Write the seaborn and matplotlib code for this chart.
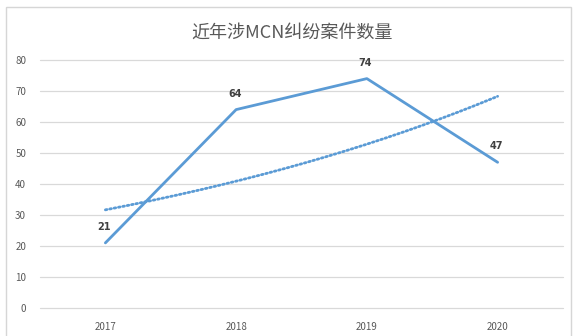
import numpy as np
import pandas as pd
import matplotlib
matplotlib.use("Agg")
import matplotlib.pyplot as plt
from matplotlib.patches import Rectangle
import seaborn as sns

# Data
years = ["2017", "2018", "2019", "2020"]
cases = [21, 64, 74, 47]
y_ticks = [0, 10, 20, 30, 40, 50, 60, 70, 80]
title = "近年涉MCN纠纷案件数量"

sns.set_theme(style="white")
plt.rcParams["font.family"] = ["Noto Sans CJK SC", "DejaVu Sans"]

W, H, DPI = 573, 336, 100
fig = plt.figure(figsize=(W / DPI, H / DPI), dpi=DPI)
fig.patch.set_facecolor("white")

# light frame around the chart area
fig.patches.append(Rectangle((6 / W, -0.05), (W - 8) / W, 1.05 - 7 / H,
                             transform=fig.transFigure, fill=False,
                             edgecolor="#d6d6d6", linewidth=1.0))

ax = fig.add_axes([40 / W, (H - 308) / H, 523 / W, 248 / H])
ax.set_facecolor("white")

df = pd.DataFrame({"idx": np.arange(len(years)), "cases": cases})
blue = "#5b9bd5"

# gridlines
for t in y_ticks:
    ax.axhline(t, color="#d9d9d9", linewidth=0.9, zorder=0, clip_on=False)

sns.lineplot(data=df, x="idx", y="cases", ax=ax, color=blue, linewidth=2.0,
             zorder=3)

# exponential trend line fitted to the yearly counts
b, ln_a = np.polyfit(df["idx"], np.log(df["cases"]), 1)
xs = np.linspace(0, len(years) - 1, 200)
ax.plot(xs, np.exp(ln_a + b * xs), color=blue, linewidth=2.0,
        linestyle=(0, (0.6, 1.0)), dash_capstyle="round", zorder=2)

# value labels
for i, v in enumerate(cases):
    ax.annotate(str(v), (i, v), xytext=(-1, 11.5), textcoords="offset points",
                ha="center", va="center", fontsize=7, fontweight="bold",
                color="#404040", family=["DejaVu Sans"])

ax.set_xlim(-0.5, len(years) - 0.5)
ax.set_ylim(0, 80)
ax.set_xticks(range(len(years)))
ax.set_xticklabels(years)
ax.set_yticks(y_ticks)
ax.set_yticklabels([str(t) for t in y_ticks])
ax.tick_params(axis="both", length=0, labelsize=7, labelcolor="#595959")
ax.tick_params(axis="y", pad=10)
ax.tick_params(axis="x", pad=10)
ax.set_xlabel("")
ax.set_ylabel("")
for s in ax.spines.values():
    s.set_visible(False)

fig.text(292 / W, 1 - 33 / H, title, ha="center", va="center",
         fontsize=13, color="#595959")

fig.savefig("out.png", dpi=DPI, facecolor="white")
